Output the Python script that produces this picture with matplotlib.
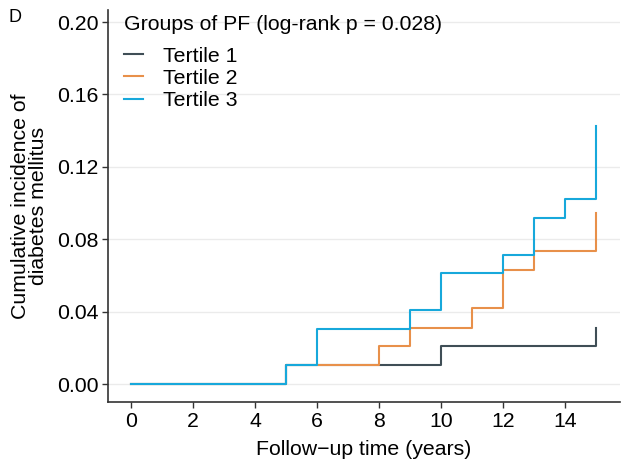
import matplotlib
matplotlib.use('Agg')
import matplotlib.pyplot as plt
from matplotlib.ticker import FormatStrFormatter

plt.rcParams['font.family'] = ['Liberation Sans', 'DejaVu Sans']

# Cumulative incidence by follow-up year (step changes)
labels = ['Tertile 1', 'Tertile 2', 'Tertile 3']
colors = ['#3f4e56', '#e8904a', '#17a8db']
t1_time = [0, 5, 10, 15]
t1_inc = [0.0, 0.0105, 0.021, 0.031]
t2_time = [0, 5, 8, 9, 11, 12, 13, 15]
t2_inc = [0.0, 0.0105, 0.021, 0.031, 0.042, 0.063, 0.0735, 0.0945]
t3_time = [0, 5, 6, 9, 10, 12, 13, 14, 15]
t3_inc = [0.0, 0.0105, 0.0305, 0.041, 0.0613, 0.0713, 0.0917, 0.102, 0.1425]

x_ticks = [0, 2, 4, 6, 8, 10, 12, 14]
y_ticks = [0.00, 0.04, 0.08, 0.12, 0.16, 0.20]

fs = 15.3

fig = plt.figure(figsize=(6.24, 4.62), dpi=100)
ax = fig.add_axes([0.173, 0.13, 0.821, 0.848])

for tm, inc, lab, col in zip([t1_time, t2_time, t3_time], [t1_inc, t2_inc, t3_inc], labels, colors):
    ax.step(tm, inc, where='post', color=col, lw=1.5, label=lab)

ax.set_xlim(-0.74, 15.77)
ax.set_ylim(-0.0099, 0.2066)
ax.set_xticks(x_ticks)
ax.set_yticks(y_ticks)
ax.yaxis.set_major_formatter(FormatStrFormatter('%.2f'))
ax.grid(axis='y', color='#ebebeb', lw=1)
ax.set_axisbelow(True)

for s in ['top', 'right']:
    ax.spines[s].set_visible(False)
for s in ['left', 'bottom']:
    ax.spines[s].set_color('#333333')
    ax.spines[s].set_linewidth(1.2)
ax.tick_params(labelsize=fs, colors='#333333', labelcolor='black', length=4, width=1, pad=3)

ax.set_xlabel('Follow\u2212up time (years)', fontsize=fs, labelpad=7)
ax.set_ylabel('Cumulative incidence of\ndiabetes mellitus', fontsize=fs, labelpad=6, linespacing=0.95)

leg = ax.legend(title='Groups of PF (log-rank p = 0.028)', loc='upper left',
                bbox_to_anchor=(0.003, 1.025), frameon=False, fontsize=fs,
                title_fontsize=fs, handlelength=0.9, handletextpad=0.9,
                labelspacing=0.15, alignment='left', borderaxespad=0.3)
leg._legend_box.sep = 9

fig.text(0.013, 0.952, 'D', fontsize=fs * 0.85)

fig.savefig('out.png', dpi=100)
